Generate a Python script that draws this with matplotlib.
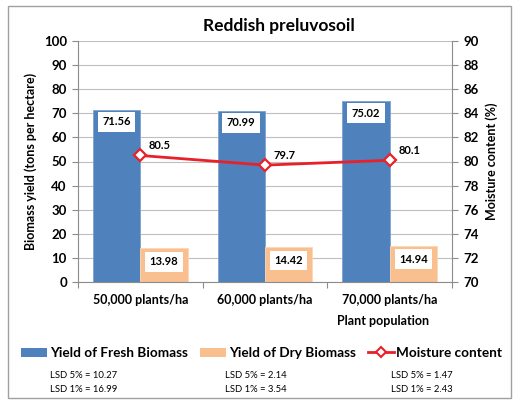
import numpy as np
import matplotlib
matplotlib.use("Agg")
import matplotlib.pyplot as plt
from matplotlib.patches import Rectangle
from matplotlib.lines import Line2D

plt.rcParams["font.family"] = ["Lato", "DejaVu Sans"]

categories = ["50,000 plants/ha", "60,000 plants/ha", "70,000 plants/ha"]
fresh = [71.56, 70.99, 75.02]
dry = [13.98, 14.42, 14.94]
moisture = [80.5, 79.7, 80.1]
lsd5 = ["LSD 5% = 10.27", "LSD 5% = 2.14", "LSD 5% = 1.47"]
lsd1 = ["LSD 1% = 16.99", "LSD 1% = 3.54", "LSD 1% = 2.43"]

BLUE = "#4F81BD"
PEACH = "#F9BF8F"
RED = "#E8202A"
GRID = "#BFBFBF"

fig = plt.figure(figsize=(5.15, 4.0), dpi=100)
fig.patches.append(Rectangle((8 / 515, 2 / 400), 503 / 515, 392 / 400,
                             transform=fig.transFigure, fill=False,
                             edgecolor="#A0A0A0", linewidth=1.0))

ax = fig.add_axes([78 / 515, 118 / 400, 374 / 515, 241 / 400])
x = np.arange(len(categories))
w = 0.38
ax.bar(x - w / 2, fresh, w, color=BLUE, edgecolor="#7FA3CF", linewidth=0.6, zorder=2)
ax.bar(x + w / 2, dry, w, color=PEACH, edgecolor="#FBD7B5", linewidth=0.6, zorder=2)

for i in range(len(x)):
    ax.text(x[i] - w / 2, fresh[i] - 5, f"{fresh[i]:.2f}", ha="center", va="center",
            fontsize=8, fontweight="bold", zorder=5,
            bbox=dict(boxstyle="square,pad=0.4", facecolor="white", edgecolor="none"))
    ax.text(x[i] + w / 2, dry[i] - 5.5, f"{dry[i]:.2f}", ha="center", va="center",
            fontsize=8, fontweight="bold", zorder=5,
            bbox=dict(boxstyle="square,pad=0.4", facecolor="white", edgecolor="none"))

ax.set_xlim(-0.5, 2.5)
ax.set_ylim(0, 100)
ax.set_yticks(np.arange(0, 101, 10))
ax.yaxis.grid(True, color=GRID, linewidth=0.8, zorder=0)
ax.set_axisbelow(True)
ax.set_xticks([-0.5, 0.5, 1.5, 2.5])
ax.set_xticklabels([])
ax.set_xticks(x, minor=True)
ax.set_xticklabels(categories, minor=True, fontsize=9, fontweight="bold")
ax.tick_params(axis="x", which="minor", length=0, pad=9)
ax.tick_params(axis="x", which="major", length=4, color="#8C8C8C")
ax.tick_params(axis="y", length=4, color="#8C8C8C", labelsize=9.5, pad=4)
for lab in ax.get_yticklabels():
    lab.set_fontweight("bold")
for s in ["top", "right"]:
    ax.spines[s].set_visible(False)
for s in ["left", "bottom"]:
    ax.spines[s].set_color("#8C8C8C")
ax.set_ylabel("Biomass yield (tons per hectare)", fontsize=9, fontweight="bold", labelpad=5)

ax2 = ax.twinx()
ax2.plot(x, moisture, color=RED, linewidth=2, marker="D", markersize=6,
         markerfacecolor="white", markeredgecolor=RED, markeredgewidth=1.6, zorder=4)
for i in range(len(x)):
    ax2.text(x[i] + 0.07, moisture[i] + 0.8, f"{moisture[i]}", fontsize=8,
             fontweight="bold", ha="left", va="center")
ax2.set_ylim(70, 90)
ax2.set_yticks(np.arange(70, 91, 2))
ax2.tick_params(axis="y", length=4, color="#8C8C8C", labelsize=9.5, pad=4)
for lab in ax2.get_yticklabels():
    lab.set_fontweight("bold")
for s in ["top", "left", "bottom"]:
    ax2.spines[s].set_visible(False)
ax2.spines["right"].set_color("#8C8C8C")
ax2.set_ylabel("Moisture content (%)", fontsize=9, fontweight="bold", labelpad=5)

fig.text(279 / 515, 1 - 26 / 400, "Reddish preluvosoil", ha="center", va="center",
         fontsize=12.5, fontweight="bold")
fig.text(383 / 515, 1 - 321 / 400, "Plant population", ha="center", va="center",
         fontsize=9, fontweight="bold")

handles = [
    Rectangle((0, 0), 1, 1, facecolor=BLUE, edgecolor="none"),
    Rectangle((0, 0), 1, 1, facecolor=PEACH, edgecolor="none"),
    Line2D([], [], color=RED, linewidth=2, marker="D", markersize=5,
           markerfacecolor="white", markeredgecolor=RED, markeredgewidth=1.5),
]
labels = ["Yield of Fresh Biomass", "Yield of Dry Biomass", "Moisture content"]
fig.legend(handles, labels, loc="center", bbox_to_anchor=(262 / 515, 1 - 353 / 400),
           ncol=3, frameon=False, prop={"weight": "bold", "size": 9.8},
           handlelength=1.9, handleheight=0.6, handletextpad=0.2, columnspacing=0.9)

lsd_x = [50, 225, 391]
for i in range(3):
    fig.text(lsd_x[i] / 515, 1 - 376 / 400, lsd5[i], fontsize=6.8, ha="left", va="center")
    fig.text(lsd_x[i] / 515, 1 - 390 / 400, lsd1[i], fontsize=6.8, ha="left", va="center")

fig.savefig("out.png", dpi=100)
